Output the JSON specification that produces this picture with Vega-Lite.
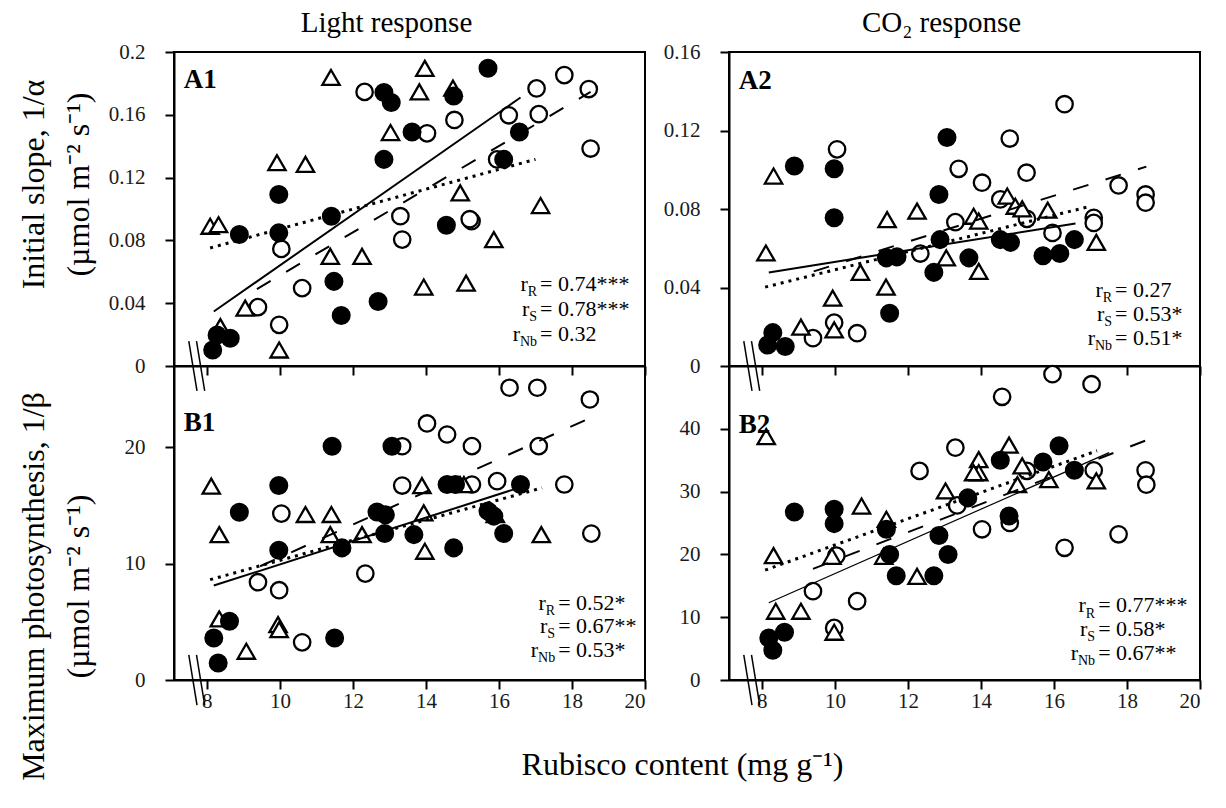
{
  "$schema": "https://vega.github.io/schema/vega-lite/v6.json",
  "background": "white",
  "padding": {"left": 15, "top": 8, "right": 5, "bottom": 5},
  "bounds": "flush",
  "columns": 2,
  "spacing": {"row": 0, "column": 84},
  "config": {
    "view": {"stroke": "black", "strokeWidth": 2},
    "axis": {"domainColor": "black", "domainWidth": 2, "tickColor": "black", "tickWidth": 2, "tickSize": 9, "labelFont": "Liberation Serif", "labelFontSize": 21, "labelColor": "#1a1a1a", "grid": false, "titleFont": "Liberation Serif", "titleFontSize": 32, "titleFontWeight": "normal", "titleColor": "black", "labelExpr": "'' + datum.value"},
    "axisY": {"labelPadding": 20},
    "axisX": {"labelPadding": 1},
    "title": {"font": "Liberation Serif", "fontSize": 29, "fontWeight": "normal", "color": "black"}
  },
  "datasets": {
    "pts": [
      {"p":"A1","g":"S","x":12.32,"y":0.1746},{"p":"A1","g":"S","x":10.04,"y":0.0746},{"p":"A1","g":"S","x":13.30,"y":0.0954},{"p":"A1","g":"S","x":13.35,"y":0.0805},{"p":"A1","g":"S","x":10.61,"y":0.0496},{"p":"A1","g":"S","x":9.40,"y":0.0375},{"p":"A1","g":"S","x":9.98,"y":0.0262},{"p":"A1","g":"S","x":17.79,"y":0.1853},{"p":"A1","g":"S","x":17.03,"y":0.1768},{"p":"A1","g":"S","x":18.46,"y":0.1764},{"p":"A1","g":"S","x":14.78,"y":0.1567},{"p":"A1","g":"S","x":14.03,"y":0.1482},{"p":"A1","g":"S","x":16.27,"y":0.1597},{"p":"A1","g":"S","x":17.09,"y":0.1604},{"p":"A1","g":"S","x":18.51,"y":0.1385},{"p":"A1","g":"S","x":15.95,"y":0.1316},{"p":"A1","g":"S","x":15.25,"y":0.0922},{"p":"A1","g":"S","x":15.20,"y":0.0935},
      {"p":"A1","g":"Nb","x":11.40,"y":0.1838},{"p":"A1","g":"Nb","x":13.03,"y":0.1487},{"p":"A1","g":"Nb","x":9.92,"y":0.1295},{"p":"A1","g":"Nb","x":10.70,"y":0.1284},{"p":"A1","g":"Nb","x":8.09,"y":0.089},{"p":"A1","g":"Nb","x":8.32,"y":0.090},{"p":"A1","g":"Nb","x":11.38,"y":0.0698},{"p":"A1","g":"Nb","x":12.25,"y":0.0698},{"p":"A1","g":"Nb","x":9.05,"y":0.0369},{"p":"A1","g":"Nb","x":9.98,"y":0.0102},{"p":"A1","g":"Nb","x":8.37,"y":0.0251},{"p":"A1","g":"Nb","x":13.97,"y":0.1896},{"p":"A1","g":"Nb","x":13.82,"y":0.1746},{"p":"A1","g":"Nb","x":14.74,"y":0.177},{"p":"A1","g":"Nb","x":14.94,"y":0.1103},{"p":"A1","g":"Nb","x":17.14,"y":0.1022},{"p":"A1","g":"Nb","x":15.86,"y":0.0805},{"p":"A1","g":"Nb","x":13.94,"y":0.0503},{"p":"A1","g":"Nb","x":15.10,"y":0.0528},
      {"p":"A1","g":"R","x":12.85,"y":0.1742},{"p":"A1","g":"R","x":13.05,"y":0.1678},{"p":"A1","g":"R","x":13.62,"y":0.149},{"p":"A1","g":"R","x":12.85,"y":0.1316},{"p":"A1","g":"R","x":9.97,"y":0.1093},{"p":"A1","g":"R","x":8.89,"y":0.0837},{"p":"A1","g":"R","x":9.97,"y":0.0848},{"p":"A1","g":"R","x":11.41,"y":0.0954},{"p":"A1","g":"R","x":11.48,"y":0.0539},{"p":"A1","g":"R","x":12.69,"y":0.0411},{"p":"A1","g":"R","x":11.68,"y":0.0322},{"p":"A1","g":"R","x":8.28,"y":0.0198},{"p":"A1","g":"R","x":8.64,"y":0.0177},{"p":"A1","g":"R","x":8.16,"y":0.0102},{"p":"A1","g":"R","x":15.70,"y":0.1896},{"p":"A1","g":"R","x":14.76,"y":0.172},{"p":"A1","g":"R","x":16.56,"y":0.149},{"p":"A1","g":"R","x":16.13,"y":0.1316},{"p":"A1","g":"R","x":14.56,"y":0.0897},
      {"p":"A2","g":"S","x":10.06,"y":0.1104},{"p":"A2","g":"S","x":13.39,"y":0.1005},{"p":"A2","g":"S","x":13.30,"y":0.0733},{"p":"A2","g":"S","x":12.34,"y":0.0573},{"p":"A2","g":"S","x":9.40,"y":0.0142},{"p":"A2","g":"S","x":9.98,"y":0.0221},{"p":"A2","g":"S","x":10.61,"y":0.0167},{"p":"A2","g":"S","x":16.29,"y":0.1334},{"p":"A2","g":"S","x":14.79,"y":0.1159},{"p":"A2","g":"S","x":15.25,"y":0.0985},{"p":"A2","g":"S","x":14.03,"y":0.0934},{"p":"A2","g":"S","x":14.53,"y":0.0849},{"p":"A2","g":"S","x":15.26,"y":0.075},{"p":"A2","g":"S","x":15.96,"y":0.0678},{"p":"A2","g":"S","x":17.09,"y":0.0755},{"p":"A2","g":"S","x":17.09,"y":0.0729},{"p":"A2","g":"S","x":17.77,"y":0.092},{"p":"A2","g":"S","x":18.51,"y":0.0874},{"p":"A2","g":"S","x":18.51,"y":0.0832},
      {"p":"A2","g":"Nb","x":8.32,"y":0.0968},{"p":"A2","g":"Nb","x":11.43,"y":0.0746},{"p":"A2","g":"Nb","x":12.25,"y":0.0789},{"p":"A2","g":"Nb","x":8.11,"y":0.0576},{"p":"A2","g":"Nb","x":13.05,"y":0.0551},{"p":"A2","g":"Nb","x":10.70,"y":0.0477},{"p":"A2","g":"Nb","x":11.40,"y":0.0402},{"p":"A2","g":"Nb","x":9.94,"y":0.0346},{"p":"A2","g":"Nb","x":9.07,"y":0.0198},{"p":"A2","g":"Nb","x":9.98,"y":0.0184},{"p":"A2","g":"Nb","x":14.72,"y":0.0866},{"p":"A2","g":"Nb","x":14.94,"y":0.0814},{"p":"A2","g":"Nb","x":15.13,"y":0.0801},{"p":"A2","g":"Nb","x":15.83,"y":0.0794},{"p":"A2","g":"Nb","x":13.80,"y":0.0763},{"p":"A2","g":"Nb","x":13.94,"y":0.0738},{"p":"A2","g":"Nb","x":17.16,"y":0.063},{"p":"A2","g":"Nb","x":13.94,"y":0.0482},
      {"p":"A2","g":"R","x":13.07,"y":0.1164},{"p":"A2","g":"R","x":8.89,"y":0.1019},{"p":"A2","g":"R","x":9.98,"y":0.1005},{"p":"A2","g":"R","x":12.85,"y":0.0874},{"p":"A2","g":"R","x":9.98,"y":0.0755},{"p":"A2","g":"R","x":11.41,"y":0.0551},{"p":"A2","g":"R","x":11.70,"y":0.0556},{"p":"A2","g":"R","x":12.88,"y":0.0644},{"p":"A2","g":"R","x":12.71,"y":0.0477},{"p":"A2","g":"R","x":11.50,"y":0.0269},{"p":"A2","g":"R","x":8.30,"y":0.017},{"p":"A2","g":"R","x":8.16,"y":0.0107},{"p":"A2","g":"R","x":8.64,"y":0.0099},{"p":"A2","g":"R","x":14.53,"y":0.0644},{"p":"A2","g":"R","x":14.81,"y":0.063},{"p":"A2","g":"R","x":15.70,"y":0.0562},{"p":"A2","g":"R","x":16.16,"y":0.0573},{"p":"A2","g":"R","x":16.56,"y":0.0644},{"p":"A2","g":"R","x":13.67,"y":0.0551},
      {"p":"B1","g":"S","x":13.35,"y":20.1},{"p":"B1","g":"S","x":13.35,"y":16.72},{"p":"B1","g":"S","x":10.04,"y":14.31},{"p":"B1","g":"S","x":12.34,"y":9.15},{"p":"B1","g":"S","x":9.40,"y":8.41},{"p":"B1","g":"S","x":9.98,"y":7.72},{"p":"B1","g":"S","x":10.61,"y":3.24},{"p":"B1","g":"S","x":16.29,"y":25.13},{"p":"B1","g":"S","x":17.05,"y":25.13},{"p":"B1","g":"S","x":18.49,"y":24.12},{"p":"B1","g":"S","x":14.03,"y":22.06},{"p":"B1","g":"S","x":14.58,"y":21.11},{"p":"B1","g":"S","x":15.26,"y":20.11},{"p":"B1","g":"S","x":17.09,"y":20.11},{"p":"B1","g":"S","x":15.26,"y":16.81},{"p":"B1","g":"S","x":15.95,"y":17.1},{"p":"B1","g":"S","x":17.79,"y":16.81},{"p":"B1","g":"S","x":18.53,"y":12.59},
      {"p":"B1","g":"Nb","x":8.12,"y":16.67},{"p":"B1","g":"Nb","x":10.70,"y":14.23},{"p":"B1","g":"Nb","x":11.41,"y":14.23},{"p":"B1","g":"Nb","x":8.34,"y":12.5},{"p":"B1","g":"Nb","x":11.38,"y":12.5},{"p":"B1","g":"Nb","x":12.25,"y":12.5},{"p":"B1","g":"Nb","x":8.34,"y":5.25},{"p":"B1","g":"Nb","x":9.95,"y":4.76},{"p":"B1","g":"Nb","x":9.98,"y":4.33},{"p":"B1","g":"Nb","x":9.08,"y":2.47},{"p":"B1","g":"Nb","x":13.89,"y":16.72},{"p":"B1","g":"Nb","x":15.04,"y":16.8},{"p":"B1","g":"Nb","x":13.94,"y":14.37},{"p":"B1","g":"Nb","x":15.90,"y":14.23},{"p":"B1","g":"Nb","x":17.16,"y":12.5},{"p":"B1","g":"Nb","x":13.97,"y":11.07},
      {"p":"B1","g":"R","x":11.43,"y":20.1},{"p":"B1","g":"R","x":13.07,"y":20.1},{"p":"B1","g":"R","x":9.97,"y":16.72},{"p":"B1","g":"R","x":8.89,"y":14.43},{"p":"B1","g":"R","x":12.66,"y":14.45},{"p":"B1","g":"R","x":12.89,"y":14.2},{"p":"B1","g":"R","x":12.87,"y":12.59},{"p":"B1","g":"R","x":11.70,"y":11.36},{"p":"B1","g":"R","x":9.97,"y":11.16},{"p":"B1","g":"R","x":8.62,"y":5.05},{"p":"B1","g":"R","x":11.50,"y":3.61},{"p":"B1","g":"R","x":8.19,"y":3.61},{"p":"B1","g":"R","x":8.31,"y":1.46},{"p":"B1","g":"R","x":14.58,"y":16.81},{"p":"B1","g":"R","x":14.81,"y":16.81},{"p":"B1","g":"R","x":16.59,"y":16.81},{"p":"B1","g":"R","x":15.70,"y":14.52},{"p":"B1","g":"R","x":15.86,"y":14.09},{"p":"B1","g":"R","x":13.67,"y":12.5},{"p":"B1","g":"R","x":16.13,"y":12.59},{"p":"B1","g":"R","x":14.76,"y":11.36},
      {"p":"B2","g":"S","x":13.30,"y":37.0},{"p":"B2","g":"S","x":12.32,"y":33.3},{"p":"B2","g":"S","x":13.35,"y":27.8},{"p":"B2","g":"S","x":10.04,"y":19.8},{"p":"B2","g":"S","x":9.40,"y":14.15},{"p":"B2","g":"S","x":10.61,"y":12.55},{"p":"B2","g":"S","x":9.98,"y":8.3},{"p":"B2","g":"S","x":15.96,"y":48.7},{"p":"B2","g":"S","x":17.03,"y":47.1},{"p":"B2","g":"S","x":14.58,"y":45.1},{"p":"B2","g":"S","x":15.26,"y":33.3},{"p":"B2","g":"S","x":17.09,"y":33.4},{"p":"B2","g":"S","x":18.51,"y":33.4},{"p":"B2","g":"S","x":18.53,"y":31.1},{"p":"B2","g":"S","x":14.79,"y":25.0},{"p":"B2","g":"S","x":14.03,"y":24.0},{"p":"B2","g":"S","x":17.77,"y":23.2},{"p":"B2","g":"S","x":16.29,"y":21.05},
      {"p":"B2","g":"Nb","x":8.12,"y":38.76},{"p":"B2","g":"Nb","x":13.03,"y":30.1},{"p":"B2","g":"Nb","x":10.73,"y":27.7},{"p":"B2","g":"Nb","x":11.41,"y":25.6},{"p":"B2","g":"Nb","x":11.34,"y":19.7},{"p":"B2","g":"Nb","x":9.92,"y":19.7},{"p":"B2","g":"Nb","x":8.32,"y":19.8},{"p":"B2","g":"Nb","x":12.25,"y":16.5},{"p":"B2","g":"Nb","x":8.38,"y":10.95},{"p":"B2","g":"Nb","x":9.07,"y":10.95},{"p":"B2","g":"Nb","x":9.98,"y":7.6},{"p":"B2","g":"Nb","x":14.77,"y":37.4},{"p":"B2","g":"Nb","x":13.94,"y":35.1},{"p":"B2","g":"Nb","x":13.94,"y":33.0},{"p":"B2","g":"Nb","x":13.80,"y":33.0},{"p":"B2","g":"Nb","x":15.13,"y":34.1},{"p":"B2","g":"Nb","x":17.16,"y":31.7},{"p":"B2","g":"Nb","x":15.86,"y":31.9},{"p":"B2","g":"Nb","x":15.0,"y":31.1},
      {"p":"B2","g":"R","x":8.89,"y":26.75},{"p":"B2","g":"R","x":9.98,"y":27.2},{"p":"B2","g":"R","x":9.98,"y":24.9},{"p":"B2","g":"R","x":11.41,"y":24.0},{"p":"B2","g":"R","x":12.85,"y":23.0},{"p":"B2","g":"R","x":13.10,"y":20.0},{"p":"B2","g":"R","x":11.50,"y":20.0},{"p":"B2","g":"R","x":11.68,"y":16.6},{"p":"B2","g":"R","x":12.71,"y":16.6},{"p":"B2","g":"R","x":8.19,"y":6.7},{"p":"B2","g":"R","x":8.62,"y":7.6},{"p":"B2","g":"R","x":8.30,"y":4.74},{"p":"B2","g":"R","x":16.14,"y":37.3},{"p":"B2","g":"R","x":14.53,"y":35.0},{"p":"B2","g":"R","x":15.70,"y":34.7},{"p":"B2","g":"R","x":16.56,"y":33.4},{"p":"B2","g":"R","x":13.64,"y":29.0},{"p":"B2","g":"R","x":14.77,"y":26.1}
    ],
    "lns": [
      {"p":"A1","g":"R","x":8.19,"y":0.0347},{"p":"A1","g":"R","x":16.59,"y":0.171},
      {"p":"A1","g":"S","x":9.37,"y":0.049},{"p":"A1","g":"S","x":18.51,"y":0.1746},
      {"p":"A1","g":"Nb","x":8.09,"y":0.0752},{"p":"A1","g":"Nb","x":17.0,"y":0.1316},
      {"p":"A2","g":"R","x":8.19,"y":0.0477},{"p":"A2","g":"R","x":16.59,"y":0.0726},
      {"p":"A2","g":"S","x":9.42,"y":0.0482},{"p":"A2","g":"S","x":18.53,"y":0.1016},
      {"p":"A2","g":"Nb","x":8.09,"y":0.0402},{"p":"A2","g":"Nb","x":17.0,"y":0.0814},
      {"p":"B1","g":"R","x":8.19,"y":8.12},{"p":"B1","g":"R","x":16.54,"y":16.52},
      {"p":"B1","g":"S","x":9.46,"y":9.78},{"p":"B1","g":"S","x":18.37,"y":22.35},
      {"p":"B1","g":"Nb","x":8.09,"y":8.63},{"p":"B1","g":"Nb","x":17.18,"y":16.52},
      {"p":"B2","g":"R","x":8.19,"y":12.3},{"p":"B2","g":"R","x":17.51,"y":36.2},
      {"p":"B2","g":"S","x":9.40,"y":17.7},{"p":"B2","g":"S","x":18.54,"y":38.2},
      {"p":"B2","g":"Nb","x":8.09,"y":17.5},{"p":"B2","g":"Nb","x":17.18,"y":36.5}
    ],
    "brk": [
      {"p":"A1","x":7.505,"x2":7.73,"y":0.0159,"y2":-0.0159},{"p":"A1","x":7.716,"x2":7.941,"y":0.0159,"y2":-0.0159},
      {"p":"A2","x":7.505,"x2":7.73,"y":0.0127,"y2":-0.0127},{"p":"A2","x":7.716,"x2":7.941,"y":0.0127,"y2":-0.0127},
      {"p":"B1","x":7.505,"x2":7.73,"y":2.15,"y2":-2.15},{"p":"B1","x":7.716,"x2":7.941,"y":2.15,"y2":-2.15},
      {"p":"B2","x":7.505,"x2":7.73,"y":3.99,"y2":-3.99},{"p":"B2","x":7.716,"x2":7.941,"y":3.99,"y2":-3.99}
    ],
    "txt": [
      {"p":"A1","k":"eq","t":"= 0.74***","x":17.127,"y":0.048},{"p":"A1","k":"eq","t":"= 0.78***","x":17.127,"y":0.032},{"p":"A1","k":"eq","t":"= 0.32","x":17.127,"y":0.0161},
      {"p":"A1","k":"sub","t":"R","x":17.045,"y":0.0448},{"p":"A1","k":"sub","t":"S","x":17.045,"y":0.0289},{"p":"A1","k":"sub","t":"Nb","x":17.045,"y":0.0129},
      {"p":"A1","k":"r","t":"r","x":16.79,"y":0.048},{"p":"A1","k":"r","t":"r","x":16.83,"y":0.032},{"p":"A1","k":"r","t":"r","x":16.577,"y":0.0161},
      {"p":"A1","k":"lab","t":"A1","x":7.37,"y":0.177},
      {"p":"A2","k":"eq","t":"= 0.27","x":17.675,"y":0.0352},{"p":"A2","k":"eq","t":"= 0.53*","x":17.675,"y":0.0229},{"p":"A2","k":"eq","t":"= 0.51*","x":17.675,"y":0.0107},
      {"p":"A2","k":"sub","t":"R","x":17.593,"y":0.0326},{"p":"A2","k":"sub","t":"S","x":17.593,"y":0.0204},{"p":"A2","k":"sub","t":"Nb","x":17.593,"y":0.0082},
      {"p":"A2","k":"r","t":"r","x":17.338,"y":0.0352},{"p":"A2","k":"r","t":"r","x":17.379,"y":0.0229},{"p":"A2","k":"r","t":"r","x":17.124,"y":0.0107},
      {"p":"A2","k":"lab","t":"A2","x":7.37,"y":0.141},
      {"p":"B1","k":"eq","t":"= 0.52*","x":17.621,"y":6.02},{"p":"B1","k":"eq","t":"= 0.67**","x":17.621,"y":4.02},{"p":"B1","k":"eq","t":"= 0.53*","x":17.621,"y":2.01},
      {"p":"B1","k":"sub","t":"R","x":17.539,"y":5.59},{"p":"B1","k":"sub","t":"S","x":17.539,"y":3.59},{"p":"B1","k":"sub","t":"Nb","x":17.539,"y":1.58},
      {"p":"B1","k":"r","t":"r","x":17.284,"y":6.02},{"p":"B1","k":"r","t":"r","x":17.325,"y":4.02},{"p":"B1","k":"r","t":"r","x":17.07,"y":2.01},
      {"p":"B1","k":"lab","t":"B1","x":7.37,"y":21.4},
      {"p":"B2","k":"eq","t":"= 0.77***","x":17.21,"y":10.75},{"p":"B2","k":"eq","t":"= 0.58*","x":17.21,"y":6.97},{"p":"B2","k":"eq","t":"= 0.67**","x":17.21,"y":3.19},
      {"p":"B2","k":"sub","t":"R","x":17.127,"y":9.95},{"p":"B2","k":"sub","t":"S","x":17.127,"y":6.17},{"p":"B2","k":"sub","t":"Nb","x":17.127,"y":2.39},
      {"p":"B2","k":"r","t":"r","x":16.872,"y":10.75},{"p":"B2","k":"r","t":"r","x":16.913,"y":6.97},{"p":"B2","k":"r","t":"r","x":16.658,"y":3.19},
      {"p":"B2","k":"lab","t":"B2","x":7.37,"y":39.4}
    ]
  },
  "concat": [
    {
      "width": 471, "height": 314,
      "title": {"text": "Light response", "anchor": "middle", "frame": "group", "dx": -23, "offset": -20, "baseline": "alphabetic"},
      "encoding": {
        "x": {"field": "x", "type": "quantitative", "scale": {"domain": [7.1, 20], "nice": false, "zero": false}, "axis": {"values": [8, 10, 12, 14, 16, 18, 20], "labels": false, "title": null}},
        "y": {"field": "y", "type": "quantitative", "scale": {"domain": [0, 0.2], "nice": false}, "axis": {"values": [0, 0.04, 0.08, 0.12, 0.16, 0.2], "title": ["Initial slope, 1/α", "(µmol m⁻² s⁻¹)"], "titleX": -131, "titleY": 132, "titleAngle": -90, "titleAlign": "center", "titleBaseline": "alphabetic", "titleLineHeight": 45}}
      },
      "layer": [
        {"data": {"name": "pts"}, "transform": [{"filter": "datum.p=='A1' && datum.g=='S'"}], "mark": {"type": "point", "shape": "circle", "filled": true, "fill": "white", "stroke": "black", "strokeWidth": 2.3, "size": 270, "opacity": 1}},
        {"data": {"name": "pts"}, "transform": [{"filter": "datum.p=='A1' && datum.g=='Nb'"}], "mark": {"type": "point", "shape": "triangle-up", "filled": true, "fill": "white", "stroke": "black", "strokeWidth": 2.3, "size": 300, "opacity": 1}},
        {"data": {"name": "pts"}, "transform": [{"filter": "datum.p=='A1' && datum.g=='R'"}], "mark": {"type": "point", "shape": "circle", "filled": true, "fill": "black", "stroke": "black", "strokeWidth": 2, "size": 290, "opacity": 1}},
        {"data": {"name": "lns"}, "transform": [{"filter": "datum.p=='A1' && datum.g=='R'"}], "mark": {"type": "line", "color": "black", "strokeWidth": 2}},
        {"data": {"name": "lns"}, "transform": [{"filter": "datum.p=='A1' && datum.g=='S'"}], "mark": {"type": "line", "color": "black", "strokeWidth": 2, "strokeDash": [16, 18]}},
        {"data": {"name": "lns"}, "transform": [{"filter": "datum.p=='A1' && datum.g=='Nb'"}], "mark": {"type": "line", "color": "black", "strokeWidth": 3, "strokeDash": [3, 5]}},
        {"data": {"name": "brk"}, "transform": [{"filter": "datum.p=='A1'"}], "mark": {"type": "rule", "color": "black", "strokeWidth": 1.5}, "encoding": {"x2": {"field": "x2"}, "y2": {"field": "y2"}}},
        {"data": {"name": "txt"}, "transform": [{"filter": "datum.p=='A1' && datum.k=='eq'"}], "mark": {"type": "text", "align": "left", "baseline": "alphabetic", "font": "Liberation Serif", "fontSize": 22, "color": "black"}, "encoding": {"text": {"field": "t", "type": "nominal"}}},
        {"data": {"name": "txt"}, "transform": [{"filter": "datum.p=='A1' && datum.k=='sub'"}], "mark": {"type": "text", "align": "right", "baseline": "alphabetic", "font": "Liberation Serif", "fontSize": 14, "color": "black"}, "encoding": {"text": {"field": "t", "type": "nominal"}}},
        {"data": {"name": "txt"}, "transform": [{"filter": "datum.p=='A1' && datum.k=='r'"}], "mark": {"type": "text", "align": "right", "baseline": "alphabetic", "font": "Liberation Serif", "fontSize": 22, "color": "black"}, "encoding": {"text": {"field": "t", "type": "nominal"}}},
        {"data": {"name": "txt"}, "transform": [{"filter": "datum.p=='A1' && datum.k=='lab'"}], "mark": {"type": "text", "align": "left", "baseline": "alphabetic", "font": "Liberation Serif", "fontSize": 27, "fontWeight": "bold", "color": "black"}, "encoding": {"text": {"field": "t", "type": "nominal"}}}
      ]
    },
    {
      "width": 471, "height": 314,
      "title": {"text": "CO₂ response", "anchor": "middle", "frame": "group", "dx": -23, "offset": -20, "baseline": "alphabetic"},
      "encoding": {
        "x": {"field": "x", "type": "quantitative", "scale": {"domain": [7.1, 20], "nice": false, "zero": false}, "axis": {"values": [8, 10, 12, 14, 16, 18, 20], "labels": false, "title": null}},
        "y": {"field": "y", "type": "quantitative", "scale": {"domain": [0, 0.16], "nice": false}, "axis": {"values": [0, 0.04, 0.08, 0.12, 0.16], "title": null}}
      },
      "layer": [
        {"data": {"name": "pts"}, "transform": [{"filter": "datum.p=='A2' && datum.g=='S'"}], "mark": {"type": "point", "shape": "circle", "filled": true, "fill": "white", "stroke": "black", "strokeWidth": 2.3, "size": 270, "opacity": 1}},
        {"data": {"name": "pts"}, "transform": [{"filter": "datum.p=='A2' && datum.g=='Nb'"}], "mark": {"type": "point", "shape": "triangle-up", "filled": true, "fill": "white", "stroke": "black", "strokeWidth": 2.3, "size": 300, "opacity": 1}},
        {"data": {"name": "pts"}, "transform": [{"filter": "datum.p=='A2' && datum.g=='R'"}], "mark": {"type": "point", "shape": "circle", "filled": true, "fill": "black", "stroke": "black", "strokeWidth": 2, "size": 290, "opacity": 1}},
        {"data": {"name": "lns"}, "transform": [{"filter": "datum.p=='A2' && datum.g=='R'"}], "mark": {"type": "line", "color": "black", "strokeWidth": 2}},
        {"data": {"name": "lns"}, "transform": [{"filter": "datum.p=='A2' && datum.g=='S'"}], "mark": {"type": "line", "color": "black", "strokeWidth": 2, "strokeDash": [16, 18]}},
        {"data": {"name": "lns"}, "transform": [{"filter": "datum.p=='A2' && datum.g=='Nb'"}], "mark": {"type": "line", "color": "black", "strokeWidth": 3, "strokeDash": [3, 5]}},
        {"data": {"name": "brk"}, "transform": [{"filter": "datum.p=='A2'"}], "mark": {"type": "rule", "color": "black", "strokeWidth": 1.5}, "encoding": {"x2": {"field": "x2"}, "y2": {"field": "y2"}}},
        {"data": {"name": "txt"}, "transform": [{"filter": "datum.p=='A2' && datum.k=='eq'"}], "mark": {"type": "text", "align": "left", "baseline": "alphabetic", "font": "Liberation Serif", "fontSize": 22, "color": "black"}, "encoding": {"text": {"field": "t", "type": "nominal"}}},
        {"data": {"name": "txt"}, "transform": [{"filter": "datum.p=='A2' && datum.k=='sub'"}], "mark": {"type": "text", "align": "right", "baseline": "alphabetic", "font": "Liberation Serif", "fontSize": 14, "color": "black"}, "encoding": {"text": {"field": "t", "type": "nominal"}}},
        {"data": {"name": "txt"}, "transform": [{"filter": "datum.p=='A2' && datum.k=='r'"}], "mark": {"type": "text", "align": "right", "baseline": "alphabetic", "font": "Liberation Serif", "fontSize": 22, "color": "black"}, "encoding": {"text": {"field": "t", "type": "nominal"}}},
        {"data": {"name": "txt"}, "transform": [{"filter": "datum.p=='A2' && datum.k=='lab'"}], "mark": {"type": "text", "align": "left", "baseline": "alphabetic", "font": "Liberation Serif", "fontSize": 27, "fontWeight": "bold", "color": "black"}, "encoding": {"text": {"field": "t", "type": "nominal"}}}
      ]
    },
    {
      "width": 471, "height": 314,
      "encoding": {
        "x": {"field": "x", "type": "quantitative", "scale": {"domain": [7.1, 20], "nice": false, "zero": false}, "axis": {"values": [8, 10, 12, 14, 16, 18, 20], "title": "Rubisco content (mg g⁻¹)", "titleX": 508, "titleY": 94, "titleAlign": "center", "titleBaseline": "alphabetic"}},
        "y": {"field": "y", "type": "quantitative", "scale": {"domain": [0, 27], "nice": false}, "axis": {"values": [0, 10, 20], "title": ["Maximum photosynthesis, 1/β", "(µmol m⁻² s⁻¹)"], "titleX": -131, "titleY": 220, "titleAngle": -90, "titleAlign": "center", "titleBaseline": "alphabetic", "titleLineHeight": 45}}
      },
      "layer": [
        {"data": {"name": "pts"}, "transform": [{"filter": "datum.p=='B1' && datum.g=='S'"}], "mark": {"type": "point", "shape": "circle", "filled": true, "fill": "white", "stroke": "black", "strokeWidth": 2.3, "size": 270, "opacity": 1}},
        {"data": {"name": "pts"}, "transform": [{"filter": "datum.p=='B1' && datum.g=='Nb'"}], "mark": {"type": "point", "shape": "triangle-up", "filled": true, "fill": "white", "stroke": "black", "strokeWidth": 2.3, "size": 300, "opacity": 1}},
        {"data": {"name": "pts"}, "transform": [{"filter": "datum.p=='B1' && datum.g=='R'"}], "mark": {"type": "point", "shape": "circle", "filled": true, "fill": "black", "stroke": "black", "strokeWidth": 2, "size": 290, "opacity": 1}},
        {"data": {"name": "lns"}, "transform": [{"filter": "datum.p=='B1' && datum.g=='R'"}], "mark": {"type": "line", "color": "black", "strokeWidth": 2}},
        {"data": {"name": "lns"}, "transform": [{"filter": "datum.p=='B1' && datum.g=='S'"}], "mark": {"type": "line", "color": "black", "strokeWidth": 2, "strokeDash": [16, 18]}},
        {"data": {"name": "lns"}, "transform": [{"filter": "datum.p=='B1' && datum.g=='Nb'"}], "mark": {"type": "line", "color": "black", "strokeWidth": 3, "strokeDash": [3, 5]}},
        {"data": {"name": "brk"}, "transform": [{"filter": "datum.p=='B1'"}], "mark": {"type": "rule", "color": "black", "strokeWidth": 1.5}, "encoding": {"x2": {"field": "x2"}, "y2": {"field": "y2"}}},
        {"data": {"name": "txt"}, "transform": [{"filter": "datum.p=='B1' && datum.k=='eq'"}], "mark": {"type": "text", "align": "left", "baseline": "alphabetic", "font": "Liberation Serif", "fontSize": 22, "color": "black"}, "encoding": {"text": {"field": "t", "type": "nominal"}}},
        {"data": {"name": "txt"}, "transform": [{"filter": "datum.p=='B1' && datum.k=='sub'"}], "mark": {"type": "text", "align": "right", "baseline": "alphabetic", "font": "Liberation Serif", "fontSize": 14, "color": "black"}, "encoding": {"text": {"field": "t", "type": "nominal"}}},
        {"data": {"name": "txt"}, "transform": [{"filter": "datum.p=='B1' && datum.k=='r'"}], "mark": {"type": "text", "align": "right", "baseline": "alphabetic", "font": "Liberation Serif", "fontSize": 22, "color": "black"}, "encoding": {"text": {"field": "t", "type": "nominal"}}},
        {"data": {"name": "txt"}, "transform": [{"filter": "datum.p=='B1' && datum.k=='lab'"}], "mark": {"type": "text", "align": "left", "baseline": "alphabetic", "font": "Liberation Serif", "fontSize": 27, "fontWeight": "bold", "color": "black"}, "encoding": {"text": {"field": "t", "type": "nominal"}}}
      ]
    },
    {
      "width": 471, "height": 314,
      "encoding": {
        "x": {"field": "x", "type": "quantitative", "scale": {"domain": [7.1, 20], "nice": false, "zero": false}, "axis": {"values": [8, 10, 12, 14, 16, 18, 20], "title": null}},
        "y": {"field": "y", "type": "quantitative", "scale": {"domain": [0, 50], "nice": false}, "axis": {"values": [0, 10, 20, 30, 40], "title": null}}
      },
      "layer": [
        {"data": {"name": "pts"}, "transform": [{"filter": "datum.p=='B2' && datum.g=='S'"}], "mark": {"type": "point", "shape": "circle", "filled": true, "fill": "white", "stroke": "black", "strokeWidth": 2.3, "size": 270, "opacity": 1}},
        {"data": {"name": "pts"}, "transform": [{"filter": "datum.p=='B2' && datum.g=='Nb'"}], "mark": {"type": "point", "shape": "triangle-up", "filled": true, "fill": "white", "stroke": "black", "strokeWidth": 2.3, "size": 300, "opacity": 1}},
        {"data": {"name": "pts"}, "transform": [{"filter": "datum.p=='B2' && datum.g=='R'"}], "mark": {"type": "point", "shape": "circle", "filled": true, "fill": "black", "stroke": "black", "strokeWidth": 2, "size": 290, "opacity": 1}},
        {"data": {"name": "lns"}, "transform": [{"filter": "datum.p=='B2' && datum.g=='R'"}], "mark": {"type": "line", "color": "black", "strokeWidth": 1.2}},
        {"data": {"name": "lns"}, "transform": [{"filter": "datum.p=='B2' && datum.g=='S'"}], "mark": {"type": "line", "color": "black", "strokeWidth": 2, "strokeDash": [16, 18]}},
        {"data": {"name": "lns"}, "transform": [{"filter": "datum.p=='B2' && datum.g=='Nb'"}], "mark": {"type": "line", "color": "black", "strokeWidth": 3, "strokeDash": [3, 5]}},
        {"data": {"name": "brk"}, "transform": [{"filter": "datum.p=='B2'"}], "mark": {"type": "rule", "color": "black", "strokeWidth": 1.5}, "encoding": {"x2": {"field": "x2"}, "y2": {"field": "y2"}}},
        {"data": {"name": "txt"}, "transform": [{"filter": "datum.p=='B2' && datum.k=='eq'"}], "mark": {"type": "text", "align": "left", "baseline": "alphabetic", "font": "Liberation Serif", "fontSize": 22, "color": "black"}, "encoding": {"text": {"field": "t", "type": "nominal"}}},
        {"data": {"name": "txt"}, "transform": [{"filter": "datum.p=='B2' && datum.k=='sub'"}], "mark": {"type": "text", "align": "right", "baseline": "alphabetic", "font": "Liberation Serif", "fontSize": 14, "color": "black"}, "encoding": {"text": {"field": "t", "type": "nominal"}}},
        {"data": {"name": "txt"}, "transform": [{"filter": "datum.p=='B2' && datum.k=='r'"}], "mark": {"type": "text", "align": "right", "baseline": "alphabetic", "font": "Liberation Serif", "fontSize": 22, "color": "black"}, "encoding": {"text": {"field": "t", "type": "nominal"}}},
        {"data": {"name": "txt"}, "transform": [{"filter": "datum.p=='B2' && datum.k=='lab'"}], "mark": {"type": "text", "align": "left", "baseline": "alphabetic", "font": "Liberation Serif", "fontSize": 27, "fontWeight": "bold", "color": "black"}, "encoding": {"text": {"field": "t", "type": "nominal"}}}
      ]
    }
  ]
}
